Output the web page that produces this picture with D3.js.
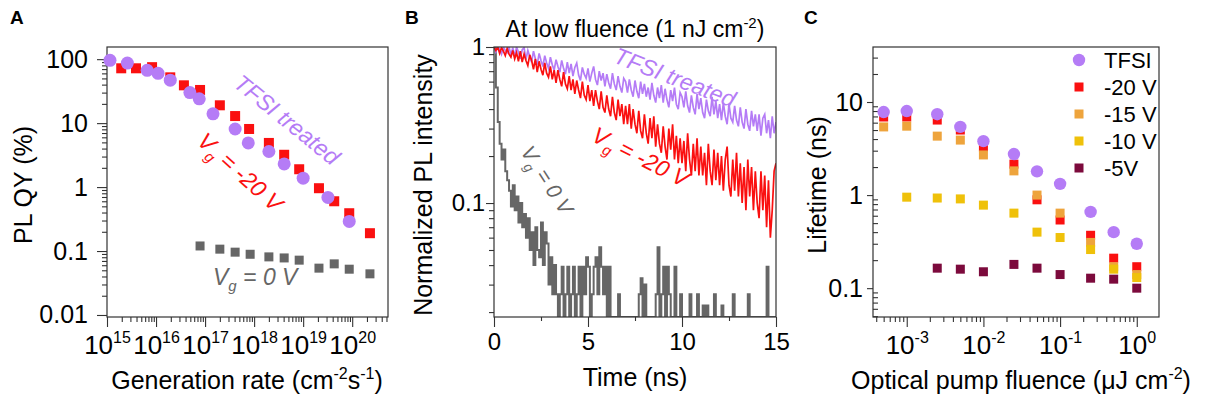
<!DOCTYPE html>
<html>
<head>
<meta charset="utf-8">
<script src="https://cdn.jsdelivr.net/npm/d3@7/dist/d3.min.js"></script>
<style>
  body { margin: 0; background: #fff; }
  svg text { font-family: Arial, "Liberation Sans", sans-serif; }
</style>
</head>
<body>
<svg id="chart" width="1206" height="402"></svg>
<script>
// ---------- panel A : PL QY vs generation rate ----------
var tfsiRate = [1.15e15, 2.6e15, 6.6e15, 1.1e16, 1.95e16, 4.9e16, 7.6e16, 1.45e17, 4.1e17, 7.6e17, 2.0e18, 4.1e18, 1.0e19, 3.2e19, 8.7e19];
var tfsiQY   = [96, 87, 67, 60, 47, 30, 24, 14, 8.1, 4.9, 3.6, 2.3, 1.38, 0.69, 0.29];
var neg20Rate = [1.95e15, 3.9e15, 8.3e15, 1.95e16, 3.7e16, 7.9e16, 2.0e17, 4.1e17, 7.9e17, 2.0e18, 4.1e18, 8.3e18, 2.1e19, 4.3e19, 8.7e19, 2.3e20];
var neg20QY   = [72, 72, 75, 52, 39, 33, 19, 12.9, 8.1, 4.9, 3.2, 1.9, 0.96, 0.6, 0.39, 0.19];
var zeroRate = [7.9e16, 2.0e17, 4.1e17, 8.3e17, 2.0e18, 4.1e18, 8.3e18, 2.1e19, 4.3e19, 8.7e19, 2.3e20];
var zeroQY   = [0.12, 0.107, 0.096, 0.089, 0.081, 0.078, 0.072, 0.054, 0.063, 0.052, 0.044];
var rateTicks = [1e15, 1e16, 1e17, 1e18, 1e19, 1e20];
var qyTicks = [0.01, 0.1, 1, 10, 100];
var qyTickLabels = ["0.01", "0.1", "1", "10", "100"];

// ---------- panel B : PL decay at low fluence ----------
var timeStep = 0.1; // ns between samples
var tfsiPL = [
  1.00,0.93,1.05,0.97,0.90,1.04,0.95,0.92,1.03,0.89,
  0.99,0.87,1.01,0.93,0.84,0.96,0.99,0.83,0.95,0.87,
  0.80,0.94,0.84,0.77,0.91,0.82,0.75,0.88,0.79,0.73,
  0.86,0.77,0.71,0.83,0.75,0.69,0.82,0.73,0.67,0.80,
  0.68,0.78,0.65,0.74,0.79,0.66,0.61,0.74,0.67,0.63,
  0.73,0.60,0.68,0.75,0.62,0.57,0.70,0.61,0.68,0.56,
  0.67,0.59,0.54,0.68,0.58,0.53,0.65,0.56,0.51,0.63,
  0.60,0.51,0.62,0.53,0.48,0.61,0.52,0.47,0.60,0.50,
  0.58,0.48,0.55,0.46,0.59,0.49,0.44,0.55,0.47,0.57,
  0.44,0.54,0.46,0.41,0.53,0.45,0.55,0.43,0.40,0.51,
  0.48,0.41,0.52,0.42,0.38,0.49,0.41,0.37,0.50,0.40,
  0.47,0.38,0.35,0.46,0.39,0.36,0.48,0.37,0.45,0.35,
  0.43,0.34,0.44,0.36,0.32,0.43,0.35,0.33,0.42,0.34,
  0.31,0.41,0.33,0.30,0.40,0.32,0.29,0.39,0.31,0.37,
  0.29,0.37,0.27,0.35,0.37,0.28,0.34,0.26,0.36,0.28,
  0.33];
var neg20PL = [
  1.00,0.95,1.02,0.91,0.99,0.94,0.88,0.98,0.90,0.86,
  0.95,0.84,0.92,0.81,0.94,0.80,0.90,0.82,0.76,0.89,
  0.82,0.72,0.84,0.69,0.81,0.72,0.66,0.79,0.68,0.64,
  0.75,0.62,0.71,0.59,0.71,0.62,0.56,0.69,0.58,0.54,
  0.65,0.53,0.62,0.50,0.61,0.53,0.47,0.60,0.49,0.46,
  0.57,0.45,0.53,0.42,0.53,0.45,0.40,0.52,0.41,0.38,
  0.49,0.40,0.36,0.48,0.38,0.34,0.46,0.36,0.43,0.32,
  0.42,0.32,0.43,0.30,0.40,0.32,0.28,0.39,0.29,0.26,
  0.37,0.28,0.24,0.35,0.26,0.36,0.23,0.32,0.24,0.21,
  0.31,0.23,0.19,0.30,0.22,0.32,0.19,0.27,0.18,0.26,
  0.18,0.25,0.16,0.28,0.19,0.15,0.24,0.16,0.26,0.15,
  0.23,0.15,0.21,0.13,0.24,0.16,0.13,0.22,0.14,0.21,
  0.13,0.20,0.12,0.19,0.23,0.13,0.11,0.19,0.12,0.21,
  0.11,0.18,0.10,0.17,0.09,0.19,0.11,0.17,0.09,0.16,
  0.10,0.08,0.16,0.09,0.15,0.07,0.14,0.06,0.09,0.16,
  0.18];
var zeroPL = [
  1.0,0.55,0.33,0.24,0.19,0.22,0.16,0.14,0.12,0.095,
  0.13,0.09,0.11,0.075,0.10,0.07,0.085,0.06,0.08,0.05,
  0.065,0.04,0.07,0.05,0.045,0.075,0.04,0.065,0.055,0.03,
  0.045,0.026,0.04,0.026,0,0.026,0.039,0,0.026,0.039,
  0,0.026,0.039,0,0.026,0.039,0,0.039,0.026,0.045,
  0.039,0,0.026,0.039,0.045,0.026,0.052,0.039,0.026,0.039,
  0,0.039,0,0,0,0,0.026,0,0,0,
  0,0,0,0,0,0,0,0.026,0.033,0,
  0.03,0,0,0,0,0,0.026,0.052,0,0.026,
  0.039,0,0.039,0.026,0,0,0.039,0,0,0.026,
  0,0,0,0,0.026,0,0,0,0.026,0,
  0,0.022,0,0.022,0,0,0,0.026,0,0,
  0,0.022,0,0,0,0,0,0.026,0,0,
  0,0,0,0,0,0.026,0,0,0,0,
  0,0,0,0,0,0.039,0,0,0,0,
  0];
var timeTicks = [0, 5, 10, 15];
var timeMinor = [2.5, 7.5, 12.5];
var plTicks = [0.1, 1];
var plTickLabels = ["0.1", "1"];

// ---------- panel C : lifetime vs pump fluence ----------
var fluence   = [5e-4, 1e-3, 2.5e-3, 5e-3, 1e-2, 2.5e-2, 5e-2, 0.1, 0.25, 0.5, 1];
var lifeTFSI  = [7.8, 8.0, 7.4, 5.4, 3.8, 2.76, 1.8, 1.32, 0.66, 0.40, 0.30];
var lifeNeg20 = [6.9, 6.9, 6.4, 5.0, 3.3, 2.15, 0.89, 0.54, 0.37, 0.21, 0.17];
var lifeNeg15 = [5.4, 5.5, 4.3, 3.9, 2.7, 1.82, 1.0, 0.64, 0.31, 0.17, 0.14];
var lifeNeg10 = [null, 0.95, 0.93, 0.91, 0.78, 0.64, 0.40, 0.35, 0.26, 0.16, 0.13];
var lifeNeg5  = [null, null, 0.164, 0.16, 0.15, 0.18, 0.164, 0.14, 0.128, 0.125, 0.10];
var fluenceTicks = [1e-3, 1e-2, 1e-1, 1];
var lifeTicks = [0.1, 1, 10];
var lifeTickLabels = ["0.1", "1", "10"];
var legendLabels = ["TFSI", "-20 V", "-15 V", "-10 V", "-5V"];

var PURPLE = "#b57cf6", RED = "#fa1010", GRAY = "#666666",
    ORANGE = "#eea43c", YELLOW = "#efc10a", MAROON = "#7c0a3c", AXIS = "#333";

var svg = d3.select("#chart");
svg.append("rect").attr("width", 1206).attr("height", 402).attr("fill", "#fff");

// minor ticks 2..9 of every decade inside the domain
function minorLog(domain) {
  var out = [];
  var k0 = Math.floor(Math.log10(domain[0])), k1 = Math.ceil(Math.log10(domain[1]));
  for (var k = k0; k <= k1; k++) {
    for (var m = 2; m <= 9; m++) {
      var v = m * Math.pow(10, k);
      if (v >= domain[0] && v <= domain[1]) out.push(v);
    }
  }
  return out;
}

function styleAxis(g, size) {
  g.select(".domain").remove();
  g.selectAll("line").attr("stroke", AXIS).attr("stroke-width", 1.1);
  g.attr("font-size", size).selectAll("text").attr("fill", "#000");
}

// "10" with the exponent raised
function powerLabels(g) {
  g.selectAll(".tick text").each(function (d) {
    var t = d3.select(this).text(null);
    t.append("tspan").text("10");
    t.append("tspan").attr("font-size", 16).attr("dy", -11).text(Math.round(Math.log10(d)));
  });
}

function frame(x0, y0, x1, y1) {
  svg.append("rect").attr("x", x0).attr("y", y0)
    .attr("width", x1 - x0).attr("height", y1 - y0)
    .attr("fill", "none").attr("stroke", AXIS).attr("stroke-width", 1.2);
}

function panelLetter(x, s) {
  svg.append("text").attr("x", x).attr("y", 24).attr("font-size", 19)
    .attr("font-weight", "bold").text(s);
}

function yTitle(x, y, s) {
  svg.append("text").attr("transform", "translate(" + x + "," + y + ") rotate(-90)")
    .attr("text-anchor", "middle").attr("font-size", 25).text(s);
}

// italic "V_g ..." annotation
function vgNote(x, y, angle, color, size, rest) {
  var t = svg.append("text")
    .attr("transform", "translate(" + x + "," + y + ") rotate(" + angle + ")")
    .attr("text-anchor", "middle").attr("fill", color)
    .attr("font-size", size).attr("font-style", "italic");
  t.append("tspan").text("V");
  t.append("tspan").attr("font-size", size * 0.65).attr("dy", size * 0.28).text("g");
  t.append("tspan").attr("dy", -size * 0.28).text("\u00a0=\u00a0" + rest);
}

function plainNote(x, y, angle, color, size, s) {
  svg.append("text")
    .attr("transform", "translate(" + x + "," + y + ") rotate(" + angle + ")")
    .attr("text-anchor", "middle").attr("fill", color)
    .attr("font-size", size).attr("font-style", "italic").text(s);
}

function squares(g, xs, ys, x, y, side, color) {
  g.append("g").selectAll("rect")
    .data(d3.zip(xs, ys).filter(function (d) { return d[1] != null; }))
    .join("rect")
    .attr("x", function (d) { return x(d[0]) - side / 2; })
    .attr("y", function (d) { return y(d[1]) - side / 2; })
    .attr("width", side).attr("height", side)
    .attr("fill", color);
}

function circles(g, xs, ys, x, y, r, color) {
  g.append("g").selectAll("circle")
    .data(d3.zip(xs, ys))
    .join("circle")
    .attr("cx", function (d) { return x(d[0]); })
    .attr("cy", function (d) { return y(d[1]); })
    .attr("r", r).attr("fill", color);
}

////////////////////////////
// panel A

var xA = d3.scaleLog().domain([1e15, Math.pow(10, 20.73)]).range([107, 388]);
var yA = d3.scaleLog().domain([0.0093, 155]).range([317, 47]);

svg.append("g").attr("transform", "translate(0,317)")
  .call(d3.axisBottom(xA).tickValues(minorLog(xA.domain())).tickSize(5).tickFormat(""))
  .call(styleAxis, 10);
svg.append("g").attr("transform", "translate(0,317)")
  .call(d3.axisBottom(xA).tickValues(rateTicks).tickSize(10).tickPadding(9))
  .call(styleAxis, 26).call(powerLabels);
svg.append("g").attr("transform", "translate(107,0)")
  .call(d3.axisLeft(yA).tickValues(minorLog(yA.domain())).tickSize(5).tickFormat(""))
  .call(styleAxis, 10);
svg.append("g").attr("transform", "translate(107,0)")
  .call(d3.axisLeft(yA).tickValues(qyTicks).tickSize(10).tickPadding(9)
    .tickFormat(function (d, i) { return qyTickLabels[i]; }))
  .call(styleAxis, 25);
frame(107, 47, 388, 317);

var gA = svg.append("g");
squares(gA, zeroRate, zeroQY, xA, yA, 9, GRAY);
squares(gA, neg20Rate, neg20QY, xA, yA, 10, RED);
circles(gA, tfsiRate, tfsiQY, xA, yA, 6.5, PURPLE);

plainNote(282, 126, 39, PURPLE, 23, "TFSI treated");
vgNote(235, 178, 42, RED, 23, "-20 V");
svg.append("text").attr("x", 213).attr("y", 285).attr("fill", GRAY)
  .attr("font-size", 23).attr("font-style", "italic")
  .call(function (t) {
    t.append("tspan").text("V");
    t.append("tspan").attr("font-size", 15).attr("dy", 6).text("g");
    t.append("tspan").attr("dy", -6).text("\u00a0=\u00a00 V");
  });

var tA = svg.append("text").attr("x", 247).attr("y", 389).attr("text-anchor", "middle").attr("font-size", 25);
tA.append("tspan").text("Generation rate (cm");
tA.append("tspan").attr("font-size", 16).attr("dy", -10).text("-2");
tA.append("tspan").attr("dy", 10).text("s");
tA.append("tspan").attr("font-size", 16).attr("dy", -10).text("-1");
tA.append("tspan").attr("dy", 10).text(")");
yTitle(32, 185, "PL QY (%)");
panelLetter(10, "A");

////////////////////////////
// panel B

var xB = d3.scaleLinear().domain([0, 15]).range([494, 776]);
var yB = d3.scaleLog().domain([0.0186, 1]).range([317, 47]).clamp(true);

svg.append("g").attr("transform", "translate(0,317)")
  .call(d3.axisBottom(xB).tickValues(timeMinor).tickSize(4).tickFormat(""))
  .call(styleAxis, 10);
svg.append("g").attr("transform", "translate(0,317)")
  .call(d3.axisBottom(xB).tickValues(timeTicks).tickSize(10).tickPadding(6).tickFormat(d3.format("d")))
  .call(styleAxis, 24);
svg.append("g").attr("transform", "translate(494,0)")
  .call(d3.axisLeft(yB).tickValues(minorLog(yB.domain())).tickSize(5).tickFormat(""))
  .call(styleAxis, 10);
svg.append("g").attr("transform", "translate(494,0)")
  .call(d3.axisLeft(yB).tickValues(plTicks).tickSize(8).tickPadding(1)
    .tickFormat(function (d, i) { return plTickLabels[i]; }))
  .call(styleAxis, 24);

svg.append("clipPath").attr("id", "clipB")
  .append("rect").attr("x", 494).attr("y", 47).attr("width", 282).attr("height", 270);

var lineB = d3.line()
  .x(function (d, i) { return xB(i * timeStep); })
  .y(function (d) { return yB(d); });
var stepB = d3.line().curve(d3.curveStepAfter)
  .x(function (d, i) { return xB(i * timeStep); })
  .y(function (d) { return yB(d); });

var gB = svg.append("g").attr("clip-path", "url(#clipB)");
gB.append("path").datum(zeroPL).attr("d", stepB)
  .attr("fill", "none").attr("stroke", GRAY).attr("stroke-width", 2);
gB.append("path").datum(tfsiPL).attr("d", lineB)
  .attr("fill", "none").attr("stroke", PURPLE).attr("stroke-width", 1.7);
gB.append("path").datum(neg20PL).attr("d", lineB)
  .attr("fill", "none").attr("stroke", RED).attr("stroke-width", 1.7);
frame(494, 47, 776, 317);

plainNote(672, 85, 21, PURPLE, 23, "TFSI treated");
vgNote(637, 164, 27, RED, 23, "-20 V");
vgNote(541, 184, 57, GRAY, 21, "0 V");

var tB = svg.append("text").attr("x", 635).attr("y", 37).attr("text-anchor", "middle").attr("font-size", 23);
tB.append("tspan").text("At low fluence (1 nJ cm");
tB.append("tspan").attr("font-size", 15).attr("dy", -9).text("-2");
tB.append("tspan").attr("dy", 9).text(")");
svg.append("text").attr("x", 635).attr("y", 386).attr("text-anchor", "middle")
  .attr("font-size", 25).text("Time (ns)");
yTitle(432, 185, "Normalized PL intensity");
panelLetter(405, "B");

////////////////////////////
// panel C

var xC = d3.scaleLog().domain([Math.pow(10, -3.44), Math.pow(10, 0.29)]).range([873, 1159]);
var yC = d3.scaleLog().domain([0.049, 39]).range([317, 47]);

svg.append("g").attr("transform", "translate(0,317)")
  .call(d3.axisBottom(xC).tickValues(minorLog(xC.domain())).tickSize(5).tickFormat(""))
  .call(styleAxis, 10);
svg.append("g").attr("transform", "translate(0,317)")
  .call(d3.axisBottom(xC).tickValues(fluenceTicks).tickSize(10).tickPadding(9))
  .call(styleAxis, 26).call(powerLabels);
svg.append("g").attr("transform", "translate(873,0)")
  .call(d3.axisLeft(yC).tickValues(minorLog(yC.domain())).tickSizeInner(-5).tickSizeOuter(0).tickFormat(""))
  .call(styleAxis, 10);
svg.append("g").attr("transform", "translate(873,0)")
  .call(d3.axisLeft(yC).tickValues(lifeTicks).tickSize(6).tickPadding(4)
    .tickFormat(function (d, i) { return lifeTickLabels[i]; }))
  .call(styleAxis, 25);
frame(873, 47, 1159, 317);

var gC = svg.append("g");
squares(gC, fluence, lifeNeg20, xC, yC, 9, RED);
squares(gC, fluence, lifeNeg15, xC, yC, 9, ORANGE);
squares(gC, fluence, lifeNeg10, xC, yC, 9, YELLOW);
squares(gC, fluence, lifeNeg5, xC, yC, 9, MAROON);
circles(gC, fluence, lifeTFSI, xC, yC, 6.2, PURPLE);

// legend
var legendColors = [PURPLE, RED, ORANGE, YELLOW, MAROON];
var legendY = d3.scalePoint().domain(legendLabels).range([60, 168]);
var leg = svg.append("g").selectAll("g").data(legendLabels).join("g")
  .attr("transform", function (d) { return "translate(1079," + legendY(d) + ")"; });
leg.each(function (d, i) {
  var g = d3.select(this);
  if (i === 0) g.append("circle").attr("r", 6.2).attr("fill", legendColors[i]);
  else g.append("rect").attr("x", -4.5).attr("y", -4.5).attr("width", 9).attr("height", 9).attr("fill", legendColors[i]);
  g.append("text").attr("x", 25).attr("dy", "0.36em").attr("font-size", 22).text(d);
});

var tC = svg.append("text").attr("x", 1021).attr("y", 389).attr("text-anchor", "middle").attr("font-size", 25);
tC.append("tspan").text("Optical pump fluence (\u03bcJ cm");
tC.append("tspan").attr("font-size", 16).attr("dy", -10).text("-2");
tC.append("tspan").attr("dy", 10).text(")");
yTitle(826, 185, "Lifetime (ns)");
panelLetter(804, "C");
</script>
</body>
</html>
